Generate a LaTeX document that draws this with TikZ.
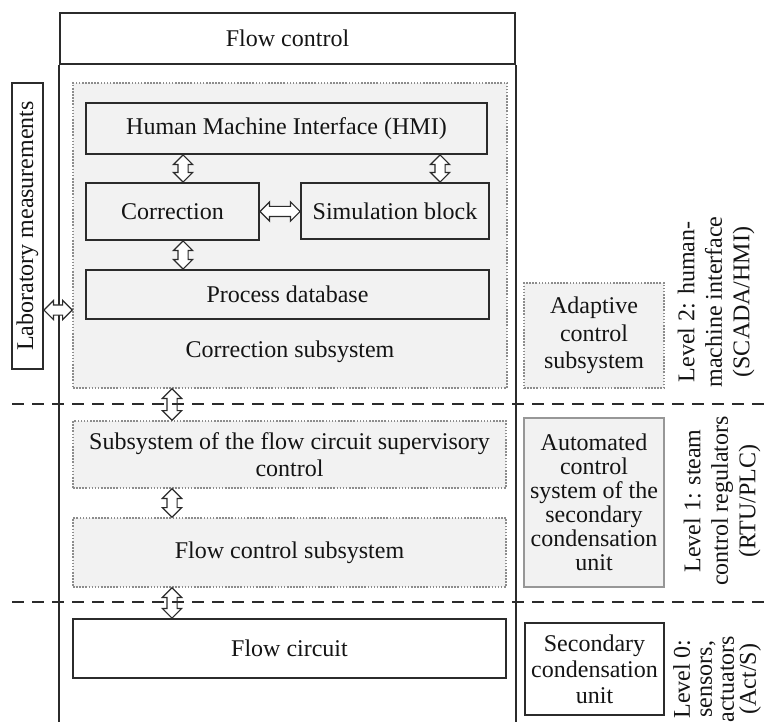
\documentclass[tikz,border=0pt]{standalone}
\usepackage{fontspec}
\setmainfont{Liberation Serif}
\usetikzlibrary{shapes.arrows,calc}

\definecolor{darkline}{HTML}{2B2B2B}
\definecolor{dotgray}{HTML}{8C8C8C}
\definecolor{boxfill}{HTML}{F2F2F2}

\tikzset{
  frame/.style={draw=darkline, line width=2pt},
  block/.style={draw=darkline, line width=1.8pt, fill=boxfill, inner sep=0pt, align=center},
  whiteblock/.style={block, fill=white},
  dotbox/.style={draw=dotgray, line width=1.6pt, dash pattern=on 1.6pt off 1.5pt, fill=boxfill, inner sep=0pt, align=center},
  graybox/.style={draw=dotgray!90, line width=1.8pt, fill=boxfill, inner sep=0pt, align=center},
  levelline/.style={draw=darkline, line width=1.8pt, dash pattern=on 12pt off 8pt},
  leveltext/.style={rotate=90, align=center},
  darrow/.style={double arrow, draw=darkline, fill=white, line width=1.2pt,
    inner xsep=0pt, inner ysep=4.5pt, double arrow head extend=4.5pt},
  dblarrow/.style={to path={let \p1=($(\tikztotarget)-(\tikztostart)$), \n1={veclen(\x1,\y1)} in
    -- (\tikztotarget) node[darrow, midway, sloped, minimum height=\n1] {}}}
}

\begin{document}
\begin{tikzpicture}[x=1pt, y=-1pt, font=\fontsize{24}{27.5}\selectfont, text=black!92]

\useasboundingbox (0,0) rectangle (768,722);

% helper coordinates
\coordinate (bottom) at (0,722);
\coordinate (colA) at (183,0);
\coordinate (colB) at (440,0);
\coordinate (colC) at (172,0);
\coordinate (rowlab) at (0,310);

% outer frame with its header
\node[frame, minimum width=455pt, minimum height=51pt, inner sep=0pt] (flowctrl) at (287.5,38.5) {Flow control};
\draw[frame] (flowctrl.south west) -- (flowctrl.south west |- bottom);
\draw[frame] (flowctrl.south east) -- (flowctrl.south east |- bottom);

% laboratory measurements
\node[whiteblock, rotate=90, minimum width=286pt, minimum height=31pt] (lab) at (27.5,226) {Laboratory measurements};

% level 2
\node[dotbox, minimum width=434pt, minimum height=305pt] (corrsub) at (290,235.5) {};
\node (corrlabel) at (290,352) {Correction subsystem};
\node[block, minimum width=401pt, minimum height=51pt] (hmi) at (286.5,128.5) {Human Machine Interface (HMI)};
\node[block, minimum width=173pt, minimum height=57pt] (corr) at (172.5,211.5) {Correction};
\node[block, minimum width=188pt, minimum height=56pt] (sim) at (395,211) {Simulation block};
\node[block, minimum width=403pt, minimum height=49pt] (procdb) at (287.5,294.5) {Process database};
\node[dotbox, minimum width=140pt, minimum height=105pt] (adaptive) at (594,335.5) {Adaptive\\control\\subsystem};
\node[leveltext] (level2) at (716,302) {Level 2: human-\\machine interface\\(SCADA/HMI)};

% level 1
\node[dotbox, minimum width=433pt, minimum height=67pt] (supervis) at (289.5,454.5) {Subsystem of the flow circuit supervisory\\control};
\node[dotbox, minimum width=433pt, minimum height=69pt] (flowsub) at (289.5,552.5) {Flow control subsystem};
\node[graybox, minimum width=140pt, minimum height=169pt, font=\fontsize{24}{24}\selectfont] (acs) at (594,502.5) {Automated\\control\\system of the\\secondary\\condensation\\unit};
\node[leveltext] (level1) at (722,501) {Level 1: steam\\control regulators\\(RTU/PLC)};

% level 0
\node[whiteblock, minimum width=433pt, minimum height=59pt] (circuit) at (289.5,648.5) {Flow circuit};
\node[whiteblock, minimum width=139pt, minimum height=92pt, font=\fontsize{24}{26}\selectfont] (scu) at (594.5,669) {Secondary\\condensation\\unit};
\node[leveltext, font=\fontsize{24}{22}\selectfont] (level0) at (717,679) {Level 0:\\sensors,\\actuators\\(Act/S)};

% double arrows
\path (hmi.south -| colA) to[dblarrow] (corr.north -| colA);
\path (hmi.south -| colB) to[dblarrow] (sim.north -| colB);
\path (corr.east) to[dblarrow] (corr.east -| sim.west);
\path (corr.south -| colA) to[dblarrow] (procdb.north -| colA);
\path (lab.south |- rowlab) to[dblarrow] (corrsub.west |- rowlab);
\path (corrsub.south -| colC) to[dblarrow] (supervis.north -| colC);
\path (supervis.south -| colC) to[dblarrow] (flowsub.north -| colC);
\path (flowsub.south -| colC) to[dblarrow] (circuit.north -| colC);

% level borders
\draw[levelline] (12,404) -- (768,404);
\draw[levelline] (12,602) -- (768,602);

\end{tikzpicture}
\end{document}
